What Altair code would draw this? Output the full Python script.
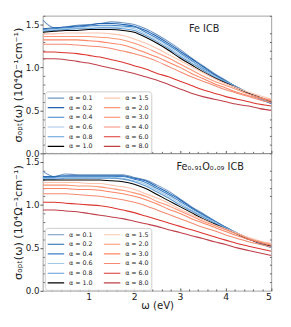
import altair as alt
import pandas as pd

FONT = "DejaVu Sans"

omega = [0.0, 0.25, 0.5, 0.75, 1.0, 1.25, 1.5, 1.75, 2.0, 2.25, 2.5,
         2.75, 3.0, 3.25, 3.5, 3.75, 4.0, 4.25, 4.5, 4.75, 5.0]

alpha_values = ["0.1", "0.2", "0.4", "0.6", "0.8", "1.0",
                "1.5", "2.0", "3.0", "4.0", "6.0", "8.0"]
series_colors = ["#6f95c4", "#1f62ad", "#3d82c6", "#a3c8e6", "#5d9bd3", "#000000",
                 "#fcc4ae", "#fc9676", "#fb8566", "#f48b72", "#dc3530", "#be3f48"]
series_widths = [1.1, 1.1, 1.1, 1.1, 1.1, 2.2, 1.1, 1.1, 1.1, 1.1, 1.1, 1.1]

# Fe ICB
fe_a01 = [1.55, 1.46, 1.47, 1.49, 1.50, 1.51, 1.53, 1.52, 1.50, 1.45, 1.38, 1.30, 1.21, 1.11, 1.02, 0.93, 0.85, 0.77, 0.70, 0.63, 0.58]
fe_a02 = [1.45, 1.46, 1.47, 1.48, 1.49, 1.51, 1.51, 1.50, 1.48, 1.43, 1.36, 1.28, 1.19, 1.10, 1.01, 0.92, 0.84, 0.77, 0.70, 0.64, 0.58]
fe_a04 = [1.44, 1.45, 1.46, 1.47, 1.48, 1.49, 1.49, 1.48, 1.47, 1.41, 1.34, 1.26, 1.17, 1.08, 0.99, 0.91, 0.84, 0.77, 0.70, 0.64, 0.59]
fe_a06 = [1.43, 1.44, 1.45, 1.46, 1.47, 1.47, 1.47, 1.47, 1.45, 1.39, 1.32, 1.24, 1.15, 1.07, 0.98, 0.90, 0.83, 0.77, 0.70, 0.64, 0.59]
fe_a08 = [1.42, 1.43, 1.44, 1.45, 1.45, 1.46, 1.46, 1.45, 1.43, 1.37, 1.30, 1.22, 1.13, 1.05, 0.97, 0.89, 0.83, 0.77, 0.70, 0.65, 0.60]
fe_a10 = [1.41, 1.42, 1.43, 1.43, 1.44, 1.44, 1.44, 1.43, 1.41, 1.35, 1.28, 1.20, 1.11, 1.03, 0.95, 0.88, 0.82, 0.76, 0.70, 0.65, 0.60]
fe_a15 = [1.39, 1.39, 1.40, 1.40, 1.40, 1.40, 1.39, 1.37, 1.33, 1.28, 1.22, 1.15, 1.08, 1.01, 0.94, 0.87, 0.81, 0.76, 0.71, 0.67, 0.63]
fe_a20 = [1.36, 1.36, 1.36, 1.36, 1.36, 1.35, 1.34, 1.32, 1.28, 1.23, 1.17, 1.11, 1.04, 0.97, 0.90, 0.84, 0.79, 0.74, 0.69, 0.65, 0.62]
fe_a30 = [1.32, 1.32, 1.32, 1.32, 1.31, 1.30, 1.28, 1.26, 1.22, 1.17, 1.12, 1.06, 1.00, 0.93, 0.87, 0.81, 0.76, 0.71, 0.67, 0.64, 0.61]
fe_a40 = [1.27, 1.27, 1.27, 1.26, 1.25, 1.24, 1.22, 1.19, 1.16, 1.12, 1.07, 1.01, 0.95, 0.89, 0.84, 0.79, 0.74, 0.70, 0.66, 0.62, 0.59]
fe_a60 = [1.18, 1.18, 1.17, 1.16, 1.14, 1.12, 1.09, 1.06, 1.02, 0.98, 0.93, 0.89, 0.84, 0.79, 0.74, 0.70, 0.66, 0.63, 0.60, 0.57, 0.55]
fe_a80 = [1.10, 1.10, 1.09, 1.07, 1.05, 1.02, 0.99, 0.96, 0.93, 0.89, 0.85, 0.80, 0.75, 0.70, 0.66, 0.63, 0.60, 0.57, 0.55, 0.52, 0.50]

# Fe0.91O0.09 ICB
feo_a01 = [1.39, 1.33, 1.36, 1.35, 1.35, 1.35, 1.35, 1.35, 1.32, 1.29, 1.23, 1.16, 1.07, 0.98, 0.90, 0.82, 0.74, 0.67, 0.61, 0.55, 0.50]
feo_a02 = [1.33, 1.33, 1.34, 1.34, 1.34, 1.34, 1.34, 1.34, 1.31, 1.28, 1.21, 1.14, 1.06, 0.97, 0.89, 0.81, 0.74, 0.67, 0.61, 0.55, 0.51]
feo_a04 = [1.32, 1.32, 1.33, 1.33, 1.33, 1.33, 1.33, 1.33, 1.30, 1.26, 1.19, 1.12, 1.04, 0.96, 0.88, 0.81, 0.74, 0.67, 0.61, 0.56, 0.51]
feo_a06 = [1.31, 1.31, 1.32, 1.32, 1.32, 1.32, 1.32, 1.31, 1.28, 1.24, 1.17, 1.10, 1.02, 0.94, 0.87, 0.80, 0.73, 0.67, 0.61, 0.56, 0.51]
feo_a08 = [1.30, 1.30, 1.31, 1.31, 1.31, 1.31, 1.31, 1.30, 1.27, 1.22, 1.15, 1.08, 1.00, 0.93, 0.86, 0.79, 0.73, 0.67, 0.61, 0.56, 0.52]
feo_a10 = [1.29, 1.29, 1.29, 1.29, 1.29, 1.29, 1.28, 1.27, 1.24, 1.19, 1.12, 1.05, 0.98, 0.91, 0.84, 0.78, 0.72, 0.66, 0.60, 0.56, 0.52]
feo_a15 = [1.26, 1.26, 1.26, 1.26, 1.25, 1.25, 1.23, 1.21, 1.18, 1.13, 1.08, 1.02, 0.95, 0.89, 0.83, 0.77, 0.72, 0.67, 0.62, 0.58, 0.55]
feo_a20 = [1.23, 1.23, 1.23, 1.22, 1.22, 1.21, 1.19, 1.17, 1.14, 1.10, 1.04, 0.99, 0.93, 0.87, 0.81, 0.76, 0.71, 0.66, 0.61, 0.57, 0.54]
feo_a30 = [1.19, 1.19, 1.19, 1.18, 1.18, 1.17, 1.15, 1.13, 1.10, 1.06, 1.01, 0.95, 0.90, 0.84, 0.79, 0.74, 0.69, 0.64, 0.60, 0.56, 0.53]
feo_a40 = [1.13, 1.13, 1.13, 1.12, 1.11, 1.10, 1.08, 1.06, 1.03, 0.99, 0.94, 0.89, 0.84, 0.79, 0.74, 0.70, 0.65, 0.61, 0.57, 0.54, 0.51]
feo_a60 = [1.03, 1.03, 1.02, 1.01, 1.00, 0.99, 0.97, 0.94, 0.91, 0.87, 0.83, 0.79, 0.75, 0.71, 0.67, 0.63, 0.59, 0.55, 0.52, 0.49, 0.46]
feo_a80 = [0.94, 0.94, 0.93, 0.92, 0.90, 0.88, 0.86, 0.84, 0.81, 0.78, 0.75, 0.71, 0.68, 0.64, 0.61, 0.57, 0.54, 0.50, 0.47, 0.44, 0.41]

x_major = [1, 2, 3, 4, 5]
x_minor = [0.2, 0.4, 0.6, 0.8, 1.2, 1.4, 1.6, 1.8, 2.2, 2.4, 2.6, 2.8,
           3.2, 3.4, 3.6, 3.8, 4.2, 4.4, 4.6, 4.8]
y_major = [0.0, 0.5, 1.0, 1.5]
y_minor = [0.1, 0.2, 0.3, 0.4, 0.6, 0.7, 0.8, 0.9, 1.1, 1.2, 1.3, 1.4, 1.6]

title_top = "Fe ICB"
title_bottom = "Fe₀.₉₁O₀.₀₉ ICB"
y_title = "σₒₚₜ(ω) (10⁴Ω⁻¹cm⁻¹)"
x_title = "ω (eV)"

labels = ["α = " + a for a in alpha_values]


def long_frame(series_list):
    rows = []
    for lab, vals in zip(labels, series_list):
        for w, v in zip(omega, vals):
            rows.append({"omega": w, "sigma": v, "label": lab})
    return pd.DataFrame(rows)


fe_df = long_frame([fe_a01, fe_a02, fe_a04, fe_a06, fe_a08, fe_a10,
                    fe_a15, fe_a20, fe_a30, fe_a40, fe_a60, fe_a80])
feo_df = long_frame([feo_a01, feo_a02, feo_a04, feo_a06, feo_a08, feo_a10,
                     feo_a15, feo_a20, feo_a30, feo_a40, feo_a60, feo_a80])

W, H = 236, 142


def panel(df, ann_text, ann_x, ann_y, legend_y, bottom):
    xs = alt.Scale(domain=[0, 5], nice=False, zero=False)
    ys = alt.Scale(domain=[0, 1.6], nice=False, zero=False)
    if bottom:
        x_main = alt.X("omega:Q", scale=xs, title=x_title,
                       axis=alt.Axis(values=x_major, format="d", ticks=False, domain=False,
                                     grid=False, labelFont=FONT, labelFontSize=9.5,
                                     labelPadding=1, labelColor="#222", titleFont=FONT,
                                     titleFontSize=10.5, titleFontWeight="normal",
                                     titlePadding=0, titleColor="#222"))
    else:
        x_main = alt.X("omega:Q", scale=xs, axis=None)
    y_main = alt.Y("sigma:Q", scale=ys, title=y_title,
                   axis=alt.Axis(values=y_major, format=".1f", domain=False, grid=False,
                                 tickSize=3, tickColor="#555", labelFont=FONT,
                                 labelFontSize=9, labelPadding=1, labelColor="#222",
                                 titleFont=FONT, titleFontSize=11.5, titleFontWeight="normal",
                                 titleColor="#222", titleX=-20, titleY=H / 2,
                                 titleAlign="center", titleBaseline="bottom"))
    leg = alt.Legend(title=None, orient="none", legendX=2, legendY=legend_y, columns=2,
                     symbolType="stroke", symbolSize=289, labelFont=FONT, labelFontSize=6.5,
                     labelColor="#222", labelOffset=4, columnPadding=10, rowPadding=0,
                     clipHeight=9.6, padding=2, fillColor="rgba(255,255,255,0.85)",
                     strokeColor="#cccccc", cornerRadius=3)
    lines = alt.Chart(df).mark_line(interpolate="monotone", clip=True).encode(
        x=x_main,
        y=y_main,
        color=alt.Color("label:N",
                        scale=alt.Scale(domain=labels, range=series_colors),
                        legend=leg),
        strokeWidth=alt.StrokeWidth("label:N",
                                    scale=alt.Scale(domain=labels, range=series_widths),
                                    legend=leg),
        order="omega:Q",
    )
    minor = alt.Chart(df).mark_point(opacity=0).encode(
        x=alt.X("omega:Q", scale=xs,
                axis=alt.Axis(orient="bottom", values=x_minor, offset=-2, tickSize=2,
                              tickColor="#666", labels=False, domain=False, grid=False,
                              title=None)),
        y=alt.Y("sigma:Q", scale=ys,
                axis=alt.Axis(orient="left", values=y_minor, offset=-2, tickSize=2,
                              tickColor="#666", labels=False, domain=False, grid=False,
                              title=None)),
    )
    extra = alt.Chart(df).mark_point(opacity=0).encode(
        x=alt.X("omega:Q", scale=xs,
                axis=alt.Axis(orient="bottom", values=x_major, offset=-3, tickSize=3,
                              tickColor="#555", labels=False, domain=False, grid=False,
                              title=None)),
        y=alt.Y("sigma:Q", scale=ys,
                axis=alt.Axis(orient="right", values=y_minor, offset=-2, tickSize=2,
                              tickColor="#666", labels=False, domain=False, grid=False,
                              title=None)),
    )
    ann = alt.Chart(pd.DataFrame({"x": [ann_x], "y": [ann_y], "t": [ann_text]})).mark_text(
        font=FONT, fontSize=10, color="#222").encode(
        x=alt.X("x:Q", scale=xs, axis=None),
        y=alt.Y("y:Q", scale=ys, axis=None),
        text="t:N",
    )
    return alt.layer(lines, minor, extra, ann).resolve_axis(
        x="independent", y="independent").properties(width=W, height=H)


top = panel(fe_df, title_top, 3.53, 1.45, 78, False)
bottom = panel(feo_df, title_bottom, 3.66, 1.44, 77, True)

chart = alt.vconcat(top, bottom, spacing=0, bounds="flush").resolve_scale(
    color="independent", strokeWidth="independent"
).configure_view(stroke="#888888", strokeWidth=0.8).properties(
    padding={"left": 4, "top": 2, "right": 8, "bottom": 2}
)

chart.save("out.html", embed_options={"renderer": "svg", "actions": False})
